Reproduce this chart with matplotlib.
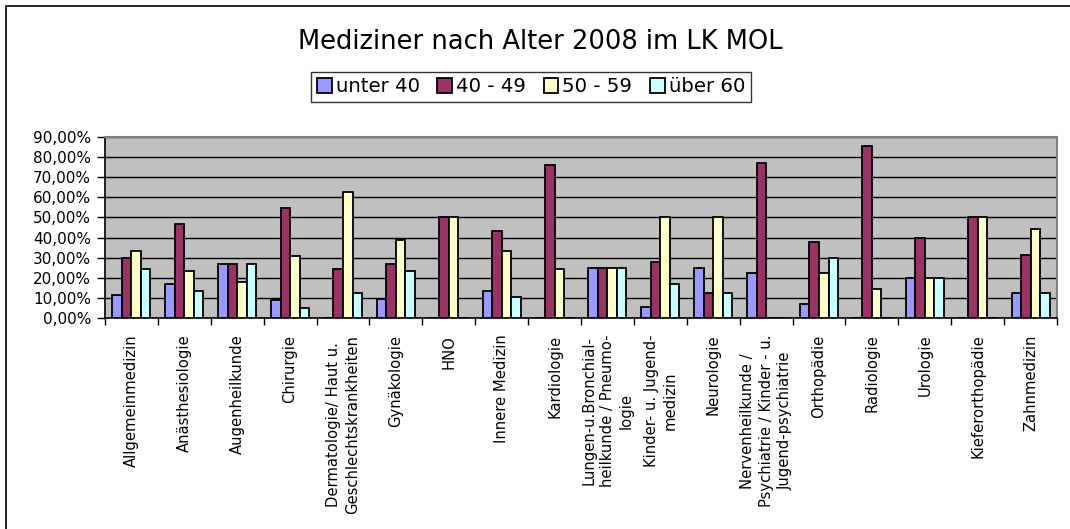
import matplotlib
matplotlib.use("Agg")
import matplotlib.pyplot as plt
from matplotlib.patches import Rectangle
import numpy as np

# Daten (Anteile in %)
fachgebiete = [
    'Allgemeinmedizin',
    'Anästhesiologie',
    'Augenheilkunde',
    'Chirurgie',
    'Dermatologie/ Haut u.\nGeschlechtskrankheiten',
    'Gynäkologie',
    'HNO',
    'Innere Medizin',
    'Kardiologie',
    'Lungen-u.Bronchial-\nheilkunde / Pneumo-\nlogie',
    'Kinder- u. Jugend-\nmedizin',
    'Neurologie',
    'Nervenheilkunde /\nPsychiatrie / Kinder - u.\nJugend-psychiatrie',
    'Orthopädie',
    'Radiologie',
    'Urologie',
    'Kieferorthopädie',
    'Zahnmedizin',
]
gruppen = ['unter 40', '40 - 49', '50 - 59', 'über 60']
unter_40 = [11.5, 16.7, 26.7, 9.0, 0, 9.5, 0, 13.3, 0, 25.0, 5.6, 25.0, 22.2, 7.0, 0, 20.0, 0, 12.5]
a40_49 = [30.0, 46.7, 26.7, 54.5, 24.5, 27.0, 50.0, 43.3, 76.0, 25.0, 27.8, 12.5, 77.0, 38.0, 85.7, 40.0, 50.0, 31.2]
a50_59 = [33.3, 23.3, 18.0, 31.0, 62.5, 39.0, 50.0, 33.3, 24.5, 25.0, 50.0, 50.0, 0, 22.5, 14.5, 20.0, 50.0, 44.5]
ueber_60 = [24.5, 13.3, 26.7, 5.0, 12.5, 23.5, 0, 10.5, 0, 25.0, 16.7, 12.5, 0, 30.0, 0, 20.0, 0, 12.5]
farben = ['#9999FF', '#993366', '#FFFFCC', '#CCFFFF']

reihen = [unter_40, a40_49, a50_59, ueber_60]

fig = plt.figure(figsize=(10.7, 5.29), dpi=100)
fig.patches.append(Rectangle((6 / 1070, -0.1), 1.2, 1 - 6 / 529 + 0.1,
                             transform=fig.transFigure, fill=False,
                             edgecolor='black', linewidth=1.2))

ax = fig.add_axes([105 / 1070, 1 - 318 / 529, 952 / 1070, 181 / 529])
ax.set_facecolor('#C0C0C0')

x = np.arange(len(fachgebiete))
breite = 0.18
for i, (werte, farbe, name) in enumerate(zip(reihen, farben, gruppen)):
    ax.bar(x + (i - 1.5) * breite, werte, breite, color=farbe,
           edgecolor='black', linewidth=1.3, label=name, zorder=3)

ax.set_xlim(-0.5, len(fachgebiete) - 0.5)
ax.set_ylim(0, 90)
ax.set_yticks(np.arange(0, 91, 10))
ax.set_yticklabels([f'{v},00%' for v in range(0, 91, 10)], fontsize=11)
ax.yaxis.grid(True, color='black', linewidth=1.0, zorder=1)
ax.tick_params(axis='y', length=6, width=1, pad=4)

ax.set_xticks(x)
ax.set_xticklabels(fachgebiete, rotation=90, fontsize=10.6, multialignment='center',
                   linespacing=1.3)
ax.tick_params(axis='x', length=0, pad=12)
ax.set_xticks(np.arange(-0.5, len(fachgebiete), 1), minor=True)
ax.tick_params(axis='x', which='minor', length=5, width=1)

for s in ['top', 'right']:
    ax.spines[s].set_color('#808080')
    ax.spines[s].set_linewidth(1.5)
ax.spines['left'].set_linewidth(1.2)
ax.spines['bottom'].set_linewidth(1.2)

fig.text(540 / 1070, 1 - 42 / 529, 'Mediziner nach Alter 2008 im LK MOL',
         ha='center', va='center', fontsize=18.5)

leg = fig.legend(loc='center', bbox_to_anchor=(531 / 1070, 1 - 87 / 529), ncol=4,
                 fontsize=14.2, frameon=True, fancybox=False, handlelength=0.75,
                 handleheight=0.75, handletextpad=0.2, columnspacing=0.9,
                 borderpad=0.3)
leg.get_frame().set_edgecolor('black')
leg.get_frame().set_linewidth(1.0)

fig.savefig('out.png', dpi=100)
